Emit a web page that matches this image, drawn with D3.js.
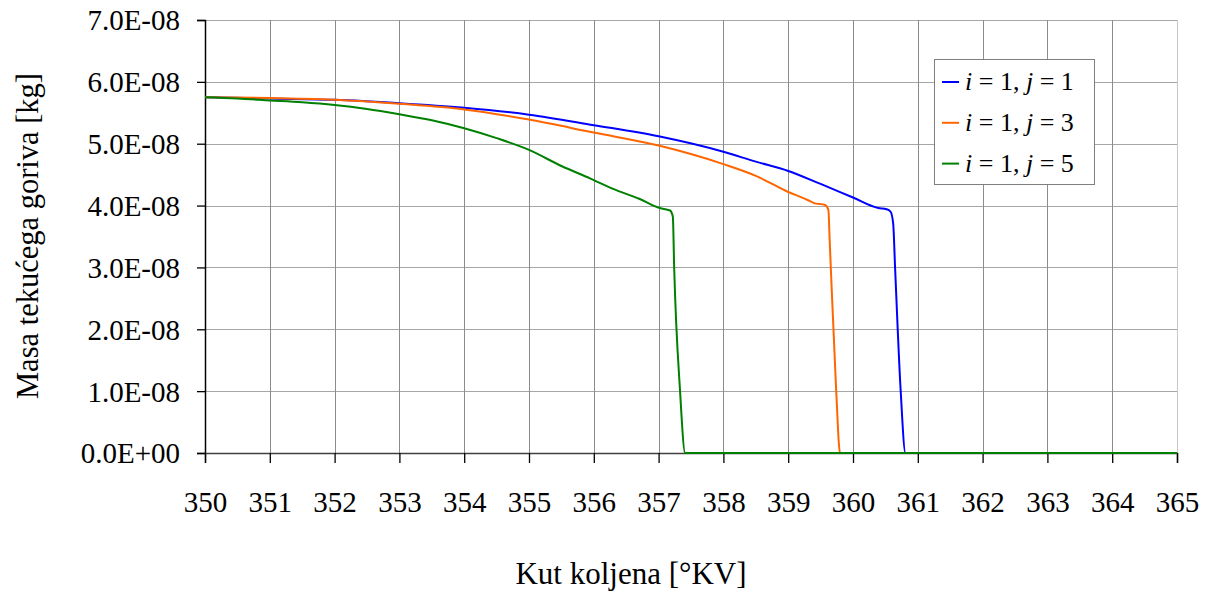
<!DOCTYPE html>
<html>
<head>
<meta charset="utf-8">
<script src="https://cdn.jsdelivr.net/npm/d3@7"></script>
<style>
  html, body { margin: 0; padding: 0; background: #fff; }
  svg { display: block; }
  svg text { font-family: "Liberation Serif", "Times New Roman", "DejaVu Serif", serif; fill: #000; }
</style>
</head>
<body>
<script>
// ---- data ----
const xTicks = [350,351,352,353,354,355,356,357,358,359,360,361,362,363,364,365];
const yTicks = [0, 1e-8, 2e-8, 3e-8, 4e-8, 5e-8, 6e-8, 7e-8];
const yTickLabels = ["0.0E+00","1.0E-08","2.0E-08","3.0E-08","4.0E-08","5.0E-08","6.0E-08","7.0E-08"];

const seriesNames = ["j1", "j3", "j5"];
const legendJ = ["1", "3", "5"];

// i = 1, j = 1
const j1X = [350, 351, 352, 353, 354, 355, 356, 357, 358, 358.5, 359, 359.5, 360, 360.39, 360.52, 360.58, 360.62, 360.65, 360.735, 360.81, 365];
const j1Y = [5.75e-8, 5.73e-8, 5.71e-8, 5.655e-8, 5.58e-8, 5.47e-8, 5.30e-8, 5.12e-8, 4.87e-8, 4.71e-8, 4.56e-8, 4.35e-8, 4.13e-8, 3.96e-8, 3.94e-8, 3.90e-8, 3.71e-8, 2.98e-8, 1.02e-8, 0, 0];

// i = 1, j = 3
const j3X = [350, 351, 352, 353, 354, 355, 356, 357, 358, 358.5, 359, 359.3, 359.4, 359.57, 359.62, 359.64, 359.74, 359.8, 365];
const j3Y = [5.75e-8, 5.74e-8, 5.71e-8, 5.645e-8, 5.555e-8, 5.39e-8, 5.18e-8, 4.97e-8, 4.67e-8, 4.48e-8, 4.22e-8, 4.09e-8, 4.04e-8, 4.01e-8, 3.93e-8, 3.44e-8, 1.02e-8, 0, 0];

// i = 1, j = 5
const j5X = [350, 350.5, 351, 351.5, 352, 352.5, 353, 353.5, 354, 354.5, 355, 355.5, 355.94, 356.3, 356.7, 357.02, 357.176, 357.22, 357.24, 357.33, 357.41, 365];
const j5Y = [5.75e-8, 5.73e-8, 5.70e-8, 5.67e-8, 5.625e-8, 5.56e-8, 5.475e-8, 5.38e-8, 5.25e-8, 5.09e-8, 4.90e-8, 4.64e-8, 4.44e-8, 4.27e-8, 4.11e-8, 3.96e-8, 3.92e-8, 3.82e-8, 3.01e-8, 1.02e-8, 0, 0];

const colors = ["#0000ff", "#ff6600", "#008000"];

// ---- chart ----
const W = 1210, H = 594;
const svg = d3.select("body").append("svg").attr("width", W).attr("height", H)
  .attr("font-family", "Liberation Serif, Times New Roman, serif");

const x = d3.scaleLinear().domain([350, 365]).range([205, 1177]);
const y = d3.scaleLinear().domain([0, 7e-8]).range([453, 20]);

// gridlines
const grid = svg.append("g").attr("shape-rendering", "crispEdges");
grid.selectAll("line.h").data(yTicks.slice(1)).join("line")
  .attr("x1", x(350)).attr("x2", x(365))
  .attr("y1", d => Math.round(y(d)) + 0.5).attr("y2", d => Math.round(y(d)) + 0.5)
  .attr("stroke", "#a6a6a6").attr("stroke-width", 1);
grid.selectAll("line.v").data(xTicks.slice(1)).join("line")
  .attr("y1", y(7e-8)).attr("y2", y(0))
  .attr("x1", d => Math.round(x(d)) + 0.5).attr("x2", d => Math.round(x(d)) + 0.5)
  .attr("stroke", d => d === 365 ? "#c8c8c8" : "#8c8c8c").attr("stroke-width", 1);

// axes
const yAxis = d3.axisLeft(y).tickValues(yTicks).tickFormat((d, i) => yTickLabels[i]).tickSize(8).tickPadding(17);
const gy = svg.append("g").attr("transform", `translate(${x(350)},0)`).call(yAxis)
  .attr("font-family", null).attr("font-size", null);
gy.select(".domain").attr("stroke", "#000").attr("stroke-width", 1.5);
gy.selectAll(".tick line").attr("stroke", "#000").attr("stroke-width", 1.3);
gy.selectAll(".tick text").style("font-size", "29px").attr("dy", "0.34em").attr("fill", "#000");

const xAxis = d3.axisBottom(x).tickValues(xTicks).tickFormat(d3.format("d")).tickSize(10).tickPadding(28);
const gx = svg.append("g").attr("transform", `translate(0,${y(0)})`).call(xAxis)
  .attr("font-family", null).attr("font-size", null);
gx.select(".domain").attr("stroke", "#404040").attr("stroke-width", 1.5);
gx.selectAll(".tick line").attr("stroke", "#000").attr("stroke-width", 1.3);
gx.selectAll(".tick text").style("font-size", "29px").attr("fill", "#000");

// series lines
const allX = [j1X, j3X, j5X];
const allY = [j1Y, j3Y, j5Y];
const line = d3.line().x(d => x(d[0])).y(d => y(d[1])).curve(d3.curveMonotoneX);
seriesNames.forEach((name, i) => {
  const pts = allX[i].map((xv, k) => [xv, allY[i][k]]);
  svg.append("path").datum(pts)
    .attr("fill", "none").attr("stroke", colors[i]).attr("stroke-width", 2)
    .attr("stroke-linejoin", "round")
    .attr("d", line);
});

// axis titles
svg.append("text").attr("x", 631).attr("y", 584).attr("text-anchor", "middle")
  .style("font-size", "31px").text("Kut koljena [°KV]");
svg.append("text").attr("transform", "translate(38,236) rotate(-90)").attr("text-anchor", "middle")
  .style("font-size", "30.5px").text("Masa tekućega goriva [kg]");

// legend
const lg = svg.append("g");
lg.append("rect").attr("x", 934.5).attr("y", 59.5).attr("width", 160).attr("height", 125)
  .attr("fill", "#fff").attr("stroke", "#7f7f7f").attr("stroke-width", 1);
legendJ.forEach((j, i) => {
  const by = 90 + i * 40.8;
  lg.append("line").attr("x1", 942).attr("x2", 959).attr("y1", by - 8).attr("y2", by - 8)
    .attr("stroke", colors[i]).attr("stroke-width", 2);
  const t = lg.append("text").attr("x", 965).attr("y", by).style("font-size", "26px");
  t.append("tspan").style("font-style", "italic").text("i");
  t.append("tspan").text(" = 1, ");
  t.append("tspan").style("font-style", "italic").text("j");
  t.append("tspan").text(" = " + j);
});
</script>
</body>
</html>
